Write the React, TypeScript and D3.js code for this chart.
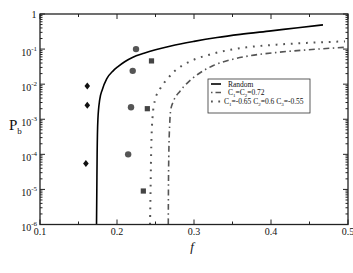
import React from "react";
import * as d3 from "d3";

const W = 353;
const H = 273;

// Curve readings: [f, log10(Pb)]
const randomCurve: [number, number][] = [
  [0.1734, -6], [0.1738, -5], [0.1742, -4], [0.1752, -3], [0.1775, -2.45],
  [0.181, -2.15], [0.1866, -1.85], [0.195, -1.62], [0.2013, -1.5], [0.21, -1.36],
  [0.22, -1.24], [0.235, -1.12], [0.25, -1.02], [0.27, -0.91], [0.3, -0.78],
  [0.33, -0.67], [0.36, -0.58], [0.4, -0.48], [0.435, -0.39], [0.4675, -0.31],
];
const corrCurve: [number, number][] = [
  [0.2429, -6], [0.2436, -5], [0.2443, -4], [0.2452, -3.3], [0.2462, -2.93],
  [0.2494, -2.45], [0.2558, -2.14], [0.2666, -1.82], [0.2753, -1.62], [0.2861, -1.45],
  [0.3, -1.3], [0.32, -1.16], [0.3338, -1.08], [0.35, -1.01], [0.3684, -0.95],
  [0.41, -0.87], [0.45, -0.82], [0.4961, -0.78],
];
const equalCurve: [number, number][] = [
  [0.2666, -6], [0.2668, -5], [0.2673, -4], [0.2684, -3.16], [0.2697, -2.74],
  [0.2731, -2.5], [0.2818, -2.2], [0.2926, -1.94], [0.3056, -1.71], [0.3251, -1.47],
  [0.3468, -1.31], [0.3727, -1.19], [0.41, -1.09], [0.4419, -1.03], [0.4961, -0.95],
];

// Markers: [f, Pb]
const diamonds: [number, number][] = [
  [0.1614, 8.9e-3], [0.1614, 2.5e-3], [0.1596, 5.5e-5],
];
const circles: [number, number][] = [
  [0.2247, 0.1], [0.2204, 0.024], [0.2182, 0.0022], [0.2145, 1.0e-4],
];
const squares: [number, number][] = [
  [0.2448, 0.046], [0.2394, 0.002], [0.2342, 9e-6],
];

const xTicksMajor = [0.1, 0.2, 0.3, 0.4, 0.5];
const xTicksMinor = [0.15, 0.25, 0.35, 0.45];
const xTickLabels = ["0.1", "0.2", "0.3", "0.4", "0.5"];
const yDecades = [-6, -5, -4, -3, -2, -1, 0];

const legendLabels = ["Random", "C=C=0.72", "C=-0.65 C=0.6 C=-0.55"];

const margin = { left: 40, right: 348, top: 14, bottom: 224.5 };
const FONT = "'Liberation Serif', 'DejaVu Serif', serif";
const GRAY = "#555";

export default function App() {
  const x = d3.scaleLinear().domain([0.1, 0.5]).range([margin.left, margin.right]);
  const y = d3.scaleLog().domain([1e-6, 1]).range([margin.bottom, margin.top]);

  const line = d3
    .line<[number, number]>()
    .x((d) => x(d[0]))
    .y((d) => y(Math.pow(10, d[1])))
    .curve(d3.curveMonotoneX);

  const minorY: number[] = [];
  for (let e = -6; e < 0; e++) {
    for (let k = 2; k <= 9; k++) minorY.push(k * Math.pow(10, e));
  }

  const diamondPath = (cx: number, cy: number) =>
    `M${cx},${cy - 3.5}L${cx + 2.8},${cy}L${cx},${cy + 3.5}L${cx - 2.8},${cy}Z`;

  const ticks: JSX.Element[] = [];
  xTicksMajor.forEach((t, i) => {
    ticks.push(<line key={"xb" + i} x1={x(t)} x2={x(t)} y1={margin.bottom} y2={margin.bottom - 5} />);
    ticks.push(<line key={"xt" + i} x1={x(t)} x2={x(t)} y1={margin.top} y2={margin.top + 5} />);
  });
  xTicksMinor.forEach((t, i) => {
    ticks.push(<line key={"xbm" + i} x1={x(t)} x2={x(t)} y1={margin.bottom} y2={margin.bottom - 3} />);
    ticks.push(<line key={"xtm" + i} x1={x(t)} x2={x(t)} y1={margin.top} y2={margin.top + 3} />);
  });
  yDecades.forEach((e, i) => {
    const yy = y(Math.pow(10, e));
    ticks.push(<line key={"yl" + i} x1={margin.left} x2={margin.left + 5} y1={yy} y2={yy} />);
    ticks.push(<line key={"yr" + i} x1={margin.right} x2={margin.right - 5} y1={yy} y2={yy} />);
  });
  minorY.forEach((v, i) => {
    const yy = y(v);
    ticks.push(<line key={"ylm" + i} x1={margin.left} x2={margin.left + 2.5} y1={yy} y2={yy} />);
    ticks.push(<line key={"yrm" + i} x1={margin.right} x2={margin.right - 2.5} y1={yy} y2={yy} />);
  });

  const legX = 208;
  const legY = 79;
  const rows = [86.5, 95, 104];

  return (
    <svg
      width={W}
      height={H}
      style={{ position: "absolute", left: 0, top: 0, background: "#fff" }}
      fontFamily={FONT}
    >
      <rect x={0} y={0} width={W} height={H} fill="#fff" />
      {/* curves */}
      <path d={line(randomCurve) || ""} fill="none" stroke="#000" strokeWidth={1.6} />
      <path
        d={line(corrCurve) || ""}
        fill="none"
        stroke={GRAY}
        strokeWidth={2}
        strokeDasharray="1.8 5.8"
      />
      <path
        d={line(equalCurve) || ""}
        fill="none"
        stroke={GRAY}
        strokeWidth={1.6}
        strokeDasharray="6 3.5 1.5 3.5"
      />
      {/* markers */}
      {diamonds.map((d, i) => (
        <path key={"d" + i} d={diamondPath(x(d[0]), y(d[1]))} fill="#111" />
      ))}
      {circles.map((d, i) => (
        <circle key={"c" + i} cx={x(d[0])} cy={y(d[1])} r={3.2} fill={GRAY} />
      ))}
      {squares.map((d, i) => (
        <rect key={"s" + i} x={x(d[0]) - 2.6} y={y(d[1]) - 2.6} width={5.2} height={5.2} fill="#444" />
      ))}
      {/* frame and ticks */}
      <g stroke="#222" strokeWidth={1}>{ticks}</g>
      <rect
        x={margin.left}
        y={margin.top}
        width={margin.right - margin.left}
        height={margin.bottom - margin.top}
        fill="none"
        stroke="#222"
        strokeWidth={1.3}
      />
      {/* x tick labels */}
      {xTicksMajor.map((t, i) => (
        <text key={"xl" + i} x={x(t)} y={235} fontSize={10} textAnchor="middle" fill="#111">
          {xTickLabels[i]}
        </text>
      ))}
      {/* y tick labels */}
      {yDecades.map((e, i) => {
        const yy = y(Math.pow(10, e));
        if (e === 0) {
          return (
            <text key={"yl" + i} x={36.5} y={yy + 3.5} fontSize={10} textAnchor="end" fill="#111">
              1
            </text>
          );
        }
        return (
          <text key={"yl" + i} x={37} y={yy + 6.5} fontSize={10} textAnchor="end" fill="#111">
            10
            <tspan dy={-5} fontSize={7}>
              {String(e)}
            </tspan>
          </text>
        );
      })}
      {/* axis labels */}
      <text x={192} y={251} fontSize={13} fontStyle="italic" textAnchor="middle" fill="#111">
        f
      </text>
      <text x={9} y={130} fontSize={15} fill="#111">
        P
        <tspan fontSize={9} dy={4}>
          b
        </tspan>
      </text>
      {/* legend */}
      <rect x={legX} y={legY} width={102} height={34} fill="#fff" stroke="#333" strokeWidth={0.8} />
      <line x1={211} x2={221} y1={rows[0] - 2.5} y2={rows[0] - 2.5} stroke="#000" strokeWidth={1.6} />
      <line
        x1={211}
        x2={221}
        y1={rows[1] - 2.5}
        y2={rows[1] - 2.5}
        stroke={GRAY}
        strokeWidth={1.6}
        strokeDasharray="1.5 3 6 3"
      />
      <line
        x1={211}
        x2={221}
        y1={rows[2] - 2.5}
        y2={rows[2] - 2.5}
        stroke={GRAY}
        strokeWidth={2}
        strokeDasharray="1.8 5.5"
      />
      <text x={228} y={rows[0]} fontSize={7.5} fill="#111">
        {legendLabels[0]}
      </text>
      <text x={228} y={rows[1]} fontSize={7.5} fill="#111">
        C<tspan fontSize={5} dy={1.5}>1</tspan>
        <tspan dy={-1.5}>=C</tspan>
        <tspan fontSize={5} dy={1.5}>2</tspan>
        <tspan dy={-1.5}>=0.72</tspan>
      </text>
      <text x={224} y={rows[2]} fontSize={7.5} fill="#111">
        C<tspan fontSize={5} dy={1.5}>1</tspan>
        <tspan dy={-1.5}>=-0.65 C</tspan>
        <tspan fontSize={5} dy={1.5}>2</tspan>
        <tspan dy={-1.5}>=0.6 C</tspan>
        <tspan fontSize={5} dy={1.5}>3</tspan>
        <tspan dy={-1.5}>=-0.55</tspan>
      </text>
    </svg>
  );
}
